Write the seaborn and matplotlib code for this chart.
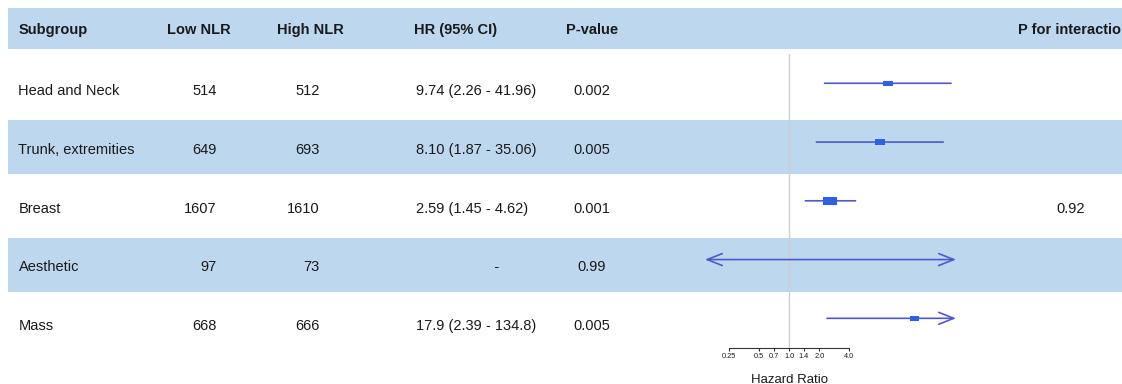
import numpy as np
import pandas as pd
import seaborn as sns
import matplotlib
matplotlib.use("Agg")
import matplotlib.pyplot as plt
from matplotlib.path import Path
from matplotlib.patches import Rectangle, ArrowStyle
from matplotlib.ticker import NullLocator
from matplotlib.transforms import blended_transform_factory

# ---- data -----------------------------------------------------------------
subgroups = ["Head and Neck", "Trunk, extremities", "Breast", "Aesthetic", "Mass"]
low_nlr = [514, 649, 1607, 97, 668]
high_nlr = [512, 693, 1610, 73, 666]
hr = [9.74, 8.10, 2.59, np.nan, 17.9]
ci_lo = [2.26, 1.87, 1.45, 0.0, 2.39]        # 0 -> unbounded below
ci_hi = [41.96, 35.06, 4.62, np.inf, 134.8]  # inf -> unbounded above
hr_labels = ["9.74 (2.26 - 41.96)", "8.10 (1.87 - 35.06)", "2.59 (1.45 - 4.62)",
             "                   -", "17.9 (2.39 - 134.8)"]
p_values = ["0.002", "0.005", "0.001", "0.99", "0.005"]
p_interaction = ["", "", "0.92", "", ""]
columns = ["Subgroup", "Low NLR", "High NLR", "HR (95% CI)", "P-value", "P for interaction"]
tick_values = [0.25, 0.5, 0.7, 1.0, 1.4, 2.0, 4.0]
tick_labels = ["0.25", "0.5", "0.7", "1.0", "1.4", "2.0", "4.0"]

# ---- style ----------------------------------------------------------------
sns.set_style("white")
plt.rcParams["font.family"] = ["Liberation Sans", "DejaVu Sans"]

BAND = "#bdd7ee"
TXT = "#1a1a1a"
LINE = "#5059c9"
BOX = "#2f5fe6"
FS = 10.5

W, H = 1122, 384
fig = plt.figure(figsize=(W / 100, H / 100), dpi=100)

# table layer in pixel units
bg = fig.add_axes([0, 0, 1, 1])
bg.set_xlim(0, W)
bg.set_ylim(H, 0)
bg.axis("off")

n = len(subgroups)
row_y = 90 + 58.75 * np.arange(n)
cap_half = 0.358 * FS * 100 / 72  # half cap height in px

# header band and striped rows
bg.add_patch(Rectangle((8, 8), W - 8, 41, color=BAND, lw=0, zorder=0))
for i in range(n):
    if i % 2 == 1:
        bg.add_patch(Rectangle((8, row_y[i] - 1.5 - 27), W - 8, 54,
                               color=BAND, lw=0, zorder=0))

head_y = 28.5 + cap_half
hdr = dict(va="baseline", fontsize=FS, fontweight="bold", color=TXT)
bg.text(18.5, head_y, columns[0], ha="left", **hdr)
bg.text(198.5, head_y, columns[1], ha="center", **hdr)
bg.text(310.5, head_y, columns[2], ha="center", **hdr)
bg.text(414, head_y, columns[3], ha="left", **hdr)
bg.text(592, head_y, columns[4], ha="center", **hdr)
bg.text(1074, head_y, columns[5], ha="center", clip_on=False, **hdr)

body = dict(va="baseline", fontsize=FS, color=TXT)
for i in range(n):
    yb = row_y[i] + cap_half
    bg.text(18.5, yb, subgroups[i], ha="left", **body)
    bg.text(217, yb, str(low_nlr[i]), ha="right", **body)
    bg.text(320, yb, str(high_nlr[i]), ha="right", **body)
    bg.text(416, yb, hr_labels[i], ha="left", **body)
    bg.text(592, yb, p_values[i], ha="center", **body)
    if p_interaction[i]:
        bg.text(1071, yb, p_interaction[i], ha="center", **body)

# ---- forest panel ---------------------------------------------------------
top_px, bot_px = 53.9, 347.7
fax = fig.add_axes([705 / W, (H - bot_px) / H, 251 / W, (bot_px - top_px) / H])
fax.patch.set_alpha(0)
fax.set_xscale("log", base=2)
xmin, xmax = 0.1426, 47.1
fax.set_xlim(xmin, xmax)
fax.set_ylim(n - 0.5, -0.5)

fax.axvline(1.0, color="#cfcfcf", lw=1, zorder=0)

hr_arr = np.array(hr, dtype=float)
lo_arr = np.array(ci_lo, dtype=float)
hi_arr = np.array(ci_hi, dtype=float)

for i in range(n):
    lo_c = max(lo_arr[i], xmin)
    hi_c = min(hi_arr[i], xmax)
    left_arrow = lo_arr[i] < xmin
    right_arrow = hi_arr[i] > xmax
    style = {(True, True): "<->", (True, False): "<-",
             (False, True): "->", (False, False): "-"}[(left_arrow, right_arrow)]
    fax.annotate("", xy=(hi_c, i), xytext=(lo_c, i), annotation_clip=False,
                 arrowprops=dict(arrowstyle=ArrowStyle(style, head_length=10.8,
                                                       head_width=4.3) if style != "-" else "-",
                                 mutation_scale=1, color=LINE, lw=1.2,
                                 shrinkA=0, shrinkB=0))

# box area follows the precision of each estimate
with np.errstate(divide="ignore", invalid="ignore"):
    weight = 3.92 / (np.log(hi_arr) - np.log(lo_arr))
weight = np.where(np.isfinite(hr_arr), weight, np.nan)
df = pd.DataFrame({"row": np.arange(n), "hr": hr_arr, "weight": weight})

rect = Path([(-1, -0.56), (1, -0.56), (1, 0.56), (-1, 0.56), (-1, -0.56)],
            [Path.MOVETO, Path.LINETO, Path.LINETO, Path.LINETO, Path.CLOSEPOLY])
sns.scatterplot(data=df.dropna(), x="hr", y="row", size="weight", sizes=(40, 102),
                marker=rect, color=BOX, linewidth=0, legend=False, ax=fax, zorder=3)

fax.set_xlim(xmin, xmax)
fax.set_ylim(n - 0.5, -0.5)
for side in ["top", "right", "left"]:
    fax.spines[side].set_visible(False)
fax.spines["bottom"].set_bounds(tick_values[0], tick_values[-1])
fax.spines["bottom"].set_color("#333333")
fax.spines["bottom"].set_linewidth(0.8)
fax.set_xticks(tick_values)
fax.set_xticklabels(tick_labels)
fax.xaxis.set_minor_locator(NullLocator())
fax.tick_params(axis="x", bottom=True, direction="out", length=2.5, width=0.8,
                labelsize=5.3, pad=1.2, color="#333333", labelcolor=TXT)
fax.set_yticks([])
fax.set_xlabel("")
fax.set_ylabel("")

lab_tr = blended_transform_factory(fax.transData, bg.transData)
fax.text(1.0, 383, "Hazard Ratio", transform=lab_tr, ha="center", va="baseline",
         fontsize=9.5, color=TXT, clip_on=False)

fig.savefig("out.png", dpi=100)
